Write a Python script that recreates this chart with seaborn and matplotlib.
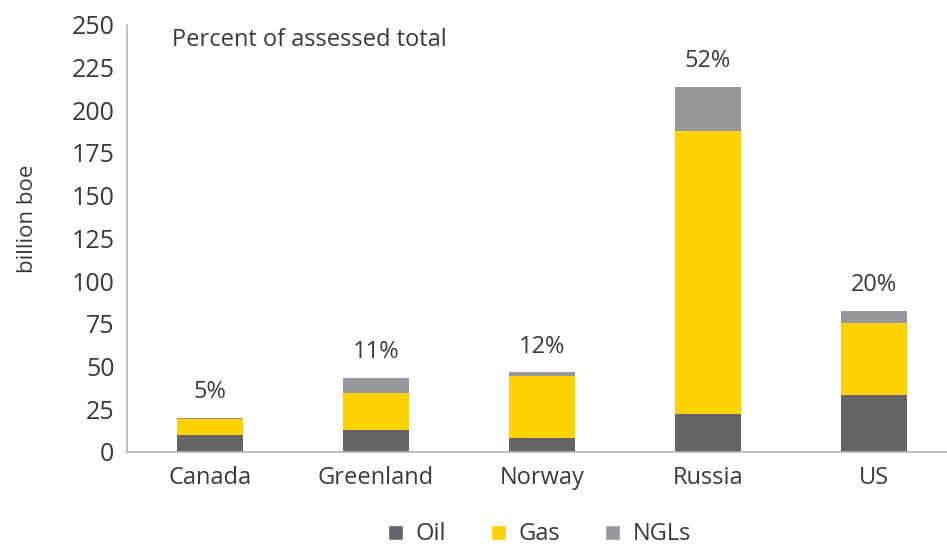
import matplotlib
matplotlib.use("Agg")
import matplotlib.pyplot as plt
from matplotlib.patches import Patch
import seaborn as sns
import pandas as pd

countries = ["Canada", "Greenland", "Norway", "Russia", "US"]
oil = [10, 13, 8, 22, 33]
gas = [9.5, 21.7, 36.5, 165.8, 42.5]
ngl = [0.5, 8.6, 2, 26, 7]
share_labels = ["5%", "11%", "12%", "52%", "20%"]
y_ticks = [0, 25, 50, 75, 100, 125, 150, 175, 200, 225, 250]

OIL_C = "#646469"
GAS_C = "#ffd200"
NGL_C = "#98989c"
TEXT_C = "#3a3a3a"
AXIS_C = "#b4b4b4"

sns.set_theme(style="white")
plt.rcParams["font.family"] = ["Open Sans", "DejaVu Sans"]

df = pd.DataFrame({"country": countries, "oil": oil, "gas": gas, "ngl": ngl})
df["oil_gas"] = df["oil"] + df["gas"]
df["total"] = df["oil_gas"] + df["ngl"]

fig = plt.figure(figsize=(9.47, 5.51), dpi=100)
ax = fig.add_axes([0.134, 0.18, 0.866, 0.775])

# stacked bars: draw cumulative heights from the top layer down
for col, color in [("total", NGL_C), ("oil_gas", GAS_C), ("oil", OIL_C)]:
    sns.barplot(data=df, x="country", y=col, color=color, width=0.4,
                saturation=1, linewidth=0, ax=ax, order=countries)

for i, (t, lab) in enumerate(zip(df["total"], share_labels)):
    ax.annotate(lab, xy=(i, t), xytext=(0, 10), textcoords="offset points",
                ha="center", va="bottom", fontsize=17, color=TEXT_C)

ax.set_ylim(0, 250)
ax.set_xlim(-0.5, 4.44)
ax.set_yticks(y_ticks)
ax.set_yticklabels([str(v) for v in y_ticks])
ax.tick_params(axis="y", labelsize=18, colors=TEXT_C, length=0, pad=9)
ax.tick_params(axis="x", labelsize=17, colors=TEXT_C, length=0, pad=10)
ax.set_xlabel("")
ax.set_ylabel("billion boe", fontsize=16, color=TEXT_C)
ax.yaxis.set_label_coords(-0.108, 0.545)

for s in ["top", "right"]:
    ax.spines[s].set_visible(False)
for s in ["left", "bottom"]:
    ax.spines[s].set_color(AXIS_C)
    ax.spines[s].set_linewidth(1.2)

ax.text(0.055, 0.965, "Percent of assessed total", transform=ax.transAxes,
        ha="left", va="center", fontsize=17, color=TEXT_C)

handles = [Patch(facecolor=OIL_C, label="Oil"),
           Patch(facecolor=GAS_C, label="Gas"),
           Patch(facecolor=NGL_C, label="NGLs")]
fig.legend(handles=handles, loc="center", bbox_to_anchor=(0.57, 0.03),
           ncol=3, frameon=False, fontsize=17, labelcolor=TEXT_C,
           handlelength=0.62, handleheight=0.62, handletextpad=0.55,
           columnspacing=1.9)

fig.savefig("out.png", dpi=100)
